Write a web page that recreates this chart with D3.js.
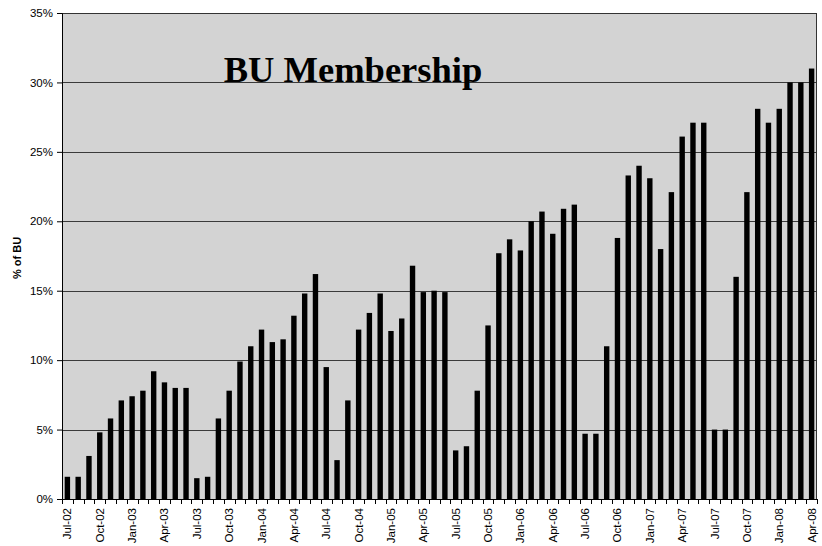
<!DOCTYPE html>
<html>
<head>
<meta charset="utf-8">
<script src="https://d3js.org/d3.v7.min.js"></script>
<style>
  body { margin: 0; background: #fff; }
  svg text { font-family: Arial, "Liberation Sans", sans-serif; }
</style>
</head>
<body>
<div id="chart"></div>
<script>
// months Jul-02 .. Apr-08
var months = [
  "Jul-02","Aug-02","Sep-02","Oct-02","Nov-02","Dec-02",
  "Jan-03","Feb-03","Mar-03","Apr-03","May-03","Jun-03","Jul-03","Aug-03","Sep-03","Oct-03","Nov-03","Dec-03",
  "Jan-04","Feb-04","Mar-04","Apr-04","May-04","Jun-04","Jul-04","Aug-04","Sep-04","Oct-04","Nov-04","Dec-04",
  "Jan-05","Feb-05","Mar-05","Apr-05","May-05","Jun-05","Jul-05","Aug-05","Sep-05","Oct-05","Nov-05","Dec-05",
  "Jan-06","Feb-06","Mar-06","Apr-06","May-06","Jun-06","Jul-06","Aug-06","Sep-06","Oct-06","Nov-06","Dec-06",
  "Jan-07","Feb-07","Mar-07","Apr-07","May-07","Jun-07","Jul-07","Aug-07","Sep-07","Oct-07","Nov-07","Dec-07",
  "Jan-08","Feb-08","Mar-08","Apr-08"
];
// % of BU
var share = [
  1.6, 1.6, 3.1, 4.8, 5.8, 7.1,
  7.4, 7.8, 9.2, 8.4, 8.0, 8.0, 1.5, 1.6, 5.8, 7.8, 9.9, 11.0,
  12.2, 11.3, 11.5, 13.2, 14.8, 16.2, 9.5, 2.8, 7.1, 12.2, 13.4, 14.8,
  12.1, 13.0, 16.8, 14.9, 15.0, 14.9, 3.5, 3.8, 7.8, 12.5, 17.7, 18.7,
  17.9, 20.0, 20.7, 19.1, 20.9, 21.2, 4.7, 4.7, 11.0, 18.8, 23.3, 24.0,
  23.1, 18.0, 22.1, 26.1, 27.1, 27.1, 5.0, 5.0, 16.0, 22.1, 28.1, 27.1,
  28.1, 30.0, 30.0, 31.0
];
var yTicks = [0, 5, 10, 15, 20, 25, 30, 35];
var labelEvery = 3;

var width = 822, height = 546;
var margin = {top: 13, right: 5, bottom: 47, left: 62};
var plotW = width - margin.left - margin.right;
var plotH = height - margin.top - margin.bottom;

var svg = d3.select("#chart").append("svg")
  .attr("width", width).attr("height", height);

var g = svg.append("g")
  .attr("transform", "translate(" + margin.left + "," + margin.top + ")");

var x = d3.scaleBand().domain(months).range([0, plotW]).paddingInner(0.5).paddingOuter(0.25);
var y = d3.scaleLinear().domain([0, 35]).range([plotH, 0]);

// plot background
g.append("rect")
  .attr("width", plotW).attr("height", plotH)
  .attr("fill", "#d3d3d3");

// gridlines
g.append("g")
  .selectAll("line")
  .data(yTicks.slice(1))
  .enter().append("line")
  .attr("x1", 0).attr("x2", plotW)
  .attr("y1", function (d) { return Math.round(y(d)) + 0.5; })
  .attr("y2", function (d) { return Math.round(y(d)) + 0.5; })
  .attr("stroke", "#3a3a3a").attr("stroke-width", 1);

// bars
g.append("g")
  .selectAll("rect")
  .data(share)
  .enter().append("rect")
  .attr("x", function (d, i) { return x(months[i]); })
  .attr("y", function (d) { return y(d); })
  .attr("width", x.bandwidth())
  .attr("height", function (d) { return plotH - y(d); })
  .attr("fill", "#000");

// frame top/right
g.append("path")
  .attr("d", "M0.5,0.5H" + (plotW - 0.5) + "V" + plotH)
  .attr("fill", "none").attr("stroke", "#333").attr("stroke-width", 1);

// y axis
var yAxis = g.append("g")
  .call(d3.axisLeft(y).tickValues(yTicks).tickSize(5).tickPadding(4)
    .tickFormat(function (d) { return d + "%"; }));
yAxis.select(".domain").attr("stroke", "#000");
yAxis.selectAll("text").attr("font-size", 11.5).attr("fill", "#000")
  .style("font-family", "Arial, 'Liberation Sans', sans-serif");

// x axis: ticks between categories
var boundaries = d3.range(months.length + 1).map(function (i) { return i * plotW / months.length; });
var xAxis = g.append("g").attr("transform", "translate(0," + plotH + ")");
xAxis.append("line")
  .attr("x1", 0).attr("x2", plotW).attr("y1", 0.5).attr("y2", 0.5)
  .attr("stroke", "#000");
xAxis.selectAll("line.tk")
  .data(boundaries)
  .enter().append("line").attr("class", "tk")
  .attr("x1", function (d) { return Math.round(d) + 0.5; })
  .attr("x2", function (d) { return Math.round(d) + 0.5; })
  .attr("y1", 0).attr("y2", 5)
  .attr("stroke", "#000");
xAxis.selectAll("text")
  .data(months.filter(function (m, i) { return i % labelEvery === 0; }))
  .enter().append("text")
  .attr("transform", function (d) {
    return "translate(" + (x(d) + x.bandwidth() / 2 + 4) + ",9) rotate(-90)";
  })
  .attr("text-anchor", "end")
  .attr("font-size", 11.5)
  .attr("fill", "#000")
  .text(function (d) { return d; });

// y label
svg.append("text")
  .attr("transform", "translate(21," + 258 + ") rotate(-90)")
  .attr("text-anchor", "middle")
  .attr("font-size", 11).attr("font-weight", "bold")
  .text("% of BU");

// title
svg.append("text")
  .attr("x", 353).attr("y", 82)
  .attr("text-anchor", "middle")
  .attr("font-size", 36.5).attr("font-weight", "bold")
  .style("font-family", "'Liberation Serif', 'Times New Roman', serif")
  .text("BU Membership");
</script>
</body>
</html>
